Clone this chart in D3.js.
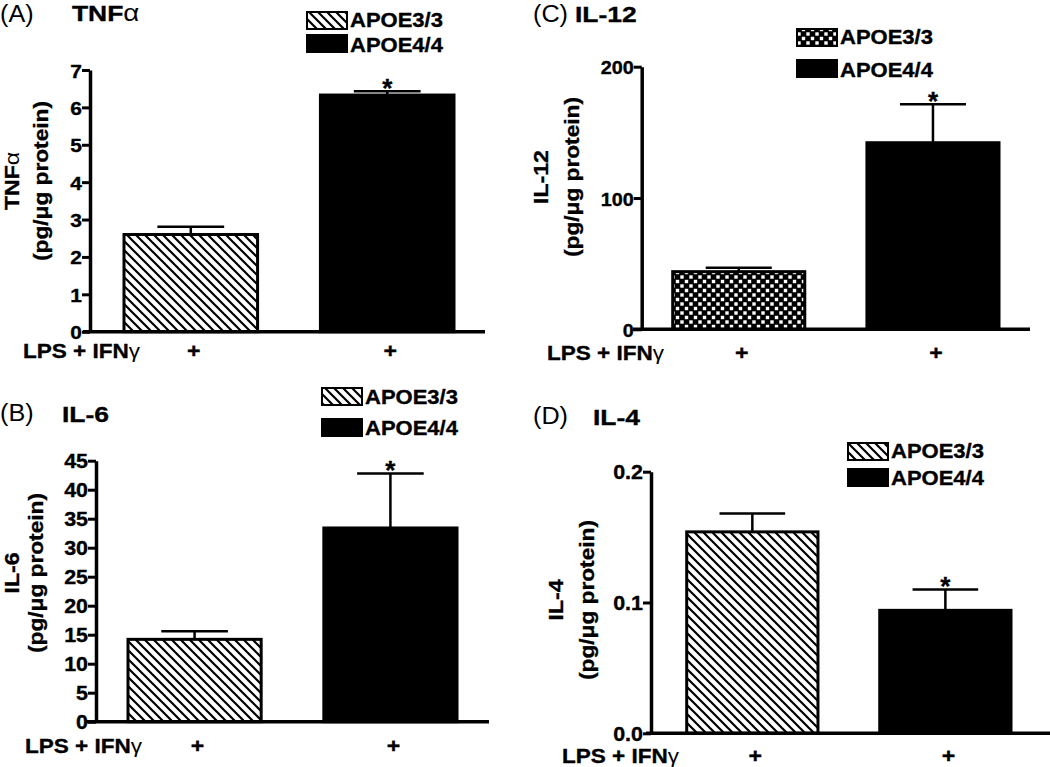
<!DOCTYPE html>
<html>
<head>
<meta charset="utf-8">
<script src="https://cdn.jsdelivr.net/npm/d3@7"></script>
<style>
  html, body { margin: 0; padding: 0; background: #fff; }
  svg { display: block; }
  text { font-family: "Liberation Sans", Arial, Helvetica, sans-serif; fill: #000; }
  text.heavy { stroke: #000; stroke-width: 0.35px; }
</style>
</head>
<body>
<svg id="chart" width="1050" height="767"></svg>
<script>
// ---------------- data ----------------
const groups = ["APOE3/3", "APOE4/4"];
const treatmentLabel = "LPS + IFN";
const treatmentMarks = ["+", "+"];
const significant = [false, true];

const tnfMean = [2.60, 6.33];
const tnfErr  = [0.21, 0.10];
const tnfTicks = [0, 1, 2, 3, 4, 5, 6, 7];

const il12Mean = [43.9, 142.1];
const il12Err  = [3.0, 29.3];
const il12Ticks = [0, 100, 200];

const il6Mean = [14.2, 33.4];
const il6Err  = [1.4, 9.4];
const il6Ticks = [0, 5, 10, 15, 20, 25, 30, 35, 40, 45];

const il4Mean = [0.154, 0.094];
const il4Err  = [0.014, 0.016];
const il4Ticks = [0.0, 0.1, 0.2];

// ---------------- layout ----------------
const panels = [
  { letter: "(A)", title: "TNF", greek: "α", ylab: "TNF", ylabGreek: "α",
    mean: tnfMean, err: tnfErr, ticks: tnfTicks, fmt: d3.format("d"), pattern: "hatch",
    axisX: 90, yTop: 70, yBot: 331.7, barL: 124, barR: 454, xL: 83, xR: 485,
    letterPos: [0, 22], titlePos: [72, 20.5],
    legX: 307, legY: [12, 35], legTextY: [26.7, 51.7],
    ylabX: [19, 48], ylabY: 181, lpsX: 23, lpsY: 358, tickFont: 19 },
  { letter: "(C)", title: "IL-12", greek: "", ylab: "IL-12", ylabGreek: "",
    mean: il12Mean, err: il12Err, ticks: il12Ticks, fmt: d3.format("d"), pattern: "checker",
    axisX: 641.7, yTop: 66.7, yBot: 329.3, barL: 672.7, barR: 999, xL: 633, xR: 1030,
    letterPos: [533, 22], titlePos: [575, 22],
    legX: 797, legY: [29, 60], legTextY: [43.5, 76.5],
    ylabX: [548, 579], ylabY: 177, lpsX: 547, lpsY: 360, tickFont: 18 },
  { letter: "(B)", title: "IL-6", greek: "", ylab: "IL-6", ylabGreek: "",
    mean: il6Mean, err: il6Err, ticks: il6Ticks, fmt: d3.format("d"), pattern: "hatch",
    axisX: 96, yTop: 460.7, yBot: 721.7, barL: 128, barR: 457, xL: 86, xR: 489,
    letterPos: [0, 421], titlePos: [62, 422],
    legX: 322, legY: [388, 419], legTextY: [403.5, 435],
    ylabX: [19, 43], ylabY: 573, lpsX: 25, lpsY: 753, tickFont: 19.5 },
  { letter: "(D)", title: "IL-4", greek: "", ylab: "IL-4", ylabGreek: "",
    mean: il4Mean, err: il4Err, ticks: il4Ticks, fmt: d3.format(".1f"), pattern: "hatch",
    axisX: 651, yTop: 471.7, yBot: 733.3, barL: 686.7, barR: 1011, xL: 646, xR: 1050,
    letterPos: [533, 424], titlePos: [593, 425],
    legX: 848, legY: [443, 469], legTextY: [458, 485],
    ylabX: [563, 594], ylabY: 600, lpsX: 562, lpsY: 763, tickFont: 19.5 }
];

const FONT_SX = 1.1;
const svg = d3.select("#chart");

// ---------------- patterns ----------------
const defs = svg.append("defs");
const hatch = defs.append("pattern").attr("id", "hatch")
  .attr("patternUnits", "userSpaceOnUse").attr("width", 9).attr("height", 9);
hatch.append("rect").attr("width", 9).attr("height", 9).attr("fill", "#fff");
hatch.append("path").attr("d", "M-1,-1L10,10M-1,8L1,10M8,-1L10,1")
  .attr("stroke", "#000").attr("stroke-width", 2.2);

const checker = defs.append("pattern").attr("id", "checker")
  .attr("patternUnits", "userSpaceOnUse").attr("width", 9).attr("height", 9);
checker.append("rect").attr("width", 9).attr("height", 9).attr("fill", "#000");
checker.append("rect").attr("x", 0.8).attr("y", 0.8).attr("width", 3.4).attr("height", 3.4).attr("fill", "#fff");
checker.append("rect").attr("x", 5.3).attr("y", 5.3).attr("width", 3.4).attr("height", 3.4).attr("fill", "#fff");

// ---------------- helpers ----------------
function txt(g, x, y, str, o = {}) {
  const bold = (o.weight || "bold") === "bold";
  const t = g.append("text")
    .attr("class", bold ? "heavy" : null)
    .attr("transform", `translate(${x},${y}) rotate(${o.rotate || 0}) scale(${o.sx || FONT_SX},1)`)
    .attr("text-anchor", o.anchor || "start")
    .attr("font-size", o.size || 20)
    .attr("font-weight", o.weight || "bold")
    .text(str);
  if (o.greek) {
    t.append("tspan").attr("font-weight", "normal")
      .style("stroke", "none")
      .attr("font-size", (o.size || 20) * (o.greekScale || 1.0))
      .text(o.greek);
  }
  return t;
}

// ---------------- draw ----------------
panels.forEach(p => {
  const g = svg.append("g");
  const y = d3.scaleLinear().domain([p.ticks[0], p.ticks[p.ticks.length - 1]]).range([p.yBot, p.yTop]);
  const x = d3.scaleBand().domain(groups).range([p.barL, p.barR]).paddingInner(0.32).paddingOuter(0);
  const bw = x.bandwidth();

  // bars
  g.selectAll("rect.bar").data(groups).enter().append("rect")
    .attr("class", "bar")
    .attr("x", d => x(d))
    .attr("y", (d, i) => y(p.mean[i]))
    .attr("width", bw)
    .attr("height", (d, i) => p.yBot - y(p.mean[i]))
    .attr("fill", (d, i) => i === 0 ? `url(#${p.pattern})` : "#000")
    .attr("stroke", "#000").attr("stroke-width", 3);

  // error bars (upper only)
  groups.forEach((d, i) => {
    const cx = x(d) + bw / 2;
    const yt = y(p.mean[i] + p.err[i]);
    g.append("line").attr("x1", cx).attr("x2", cx).attr("y1", y(p.mean[i])).attr("y2", yt)
      .attr("stroke", "#000").attr("stroke-width", 2.5);
    g.append("line").attr("x1", cx - bw / 4).attr("x2", cx + bw / 4).attr("y1", yt).attr("y2", yt)
      .attr("stroke", "#000").attr("stroke-width", 2.5);
    if (significant[i]) {
      txt(g, cx, yt + 6, "*", { size: 26, anchor: "middle", sx: 1 });
    }
    // treatment mark
    txt(g, cx + 3, p.lpsY, treatmentMarks[i], { size: 21, anchor: "middle", sx: 1.1 });
  });

  // y axis
  const ax = g.append("g").attr("transform", `translate(${p.axisX},0)`)
    .call(d3.axisLeft(y).tickValues(p.ticks).tickFormat(p.fmt).tickSize(8).tickSizeOuter(0).tickPadding(1));
  ax.select(".domain").attr("stroke", "#000").attr("stroke-width", 3.5);
  ax.selectAll(".tick line").attr("stroke", "#000").attr("stroke-width", 3);
  ax.selectAll(".tick text")
    .attr("class", "heavy")
    .attr("font-size", p.tickFont).attr("font-weight", "bold")
    .attr("font-family", "'Liberation Sans', Arial, sans-serif")
    .attr("x", null).attr("dy", null)
    .attr("transform", `translate(-8,7) scale(${FONT_SX},1)`);

  // x axis baseline
  g.append("line").attr("x1", p.xL).attr("x2", p.xR).attr("y1", p.yBot).attr("y2", p.yBot)
    .attr("stroke", "#000").attr("stroke-width", 3.5);

  // titles
  txt(g, p.letterPos[0], p.letterPos[1], p.letter, { size: 24, weight: "normal", sx: 1.05 });
  txt(g, p.titlePos[0], p.titlePos[1], p.title, { size: 22, sx: 1.2, greek: p.greek, greekScale: 1.05 });

  // legend
  groups.forEach((d, i) => {
    g.append("rect").attr("x", p.legX).attr("y", p.legY[i]).attr("width", 40).attr("height", 17)
      .attr("fill", i === 0 ? `url(#${p.pattern})` : "#000")
      .attr("stroke", "#000").attr("stroke-width", 2);
    txt(g, p.legX + 43, p.legTextY[i], d, { size: 20 });
  });

  // y axis title (two lines)
  txt(g, p.ylabX[0], p.ylabY, p.ylab, { size: 21, rotate: -90, anchor: "middle", sx: 1.1, greek: p.ylabGreek });
  txt(g, p.ylabX[1], p.ylabY, "(pg/μg protein)", { size: 21, rotate: -90, anchor: "middle", sx: 1.08 });

  // treatment label
  txt(g, p.lpsX, p.lpsY, treatmentLabel, { size: 20.5, greek: "γ", greekScale: 1.0 });
});
</script>
</body>
</html>
